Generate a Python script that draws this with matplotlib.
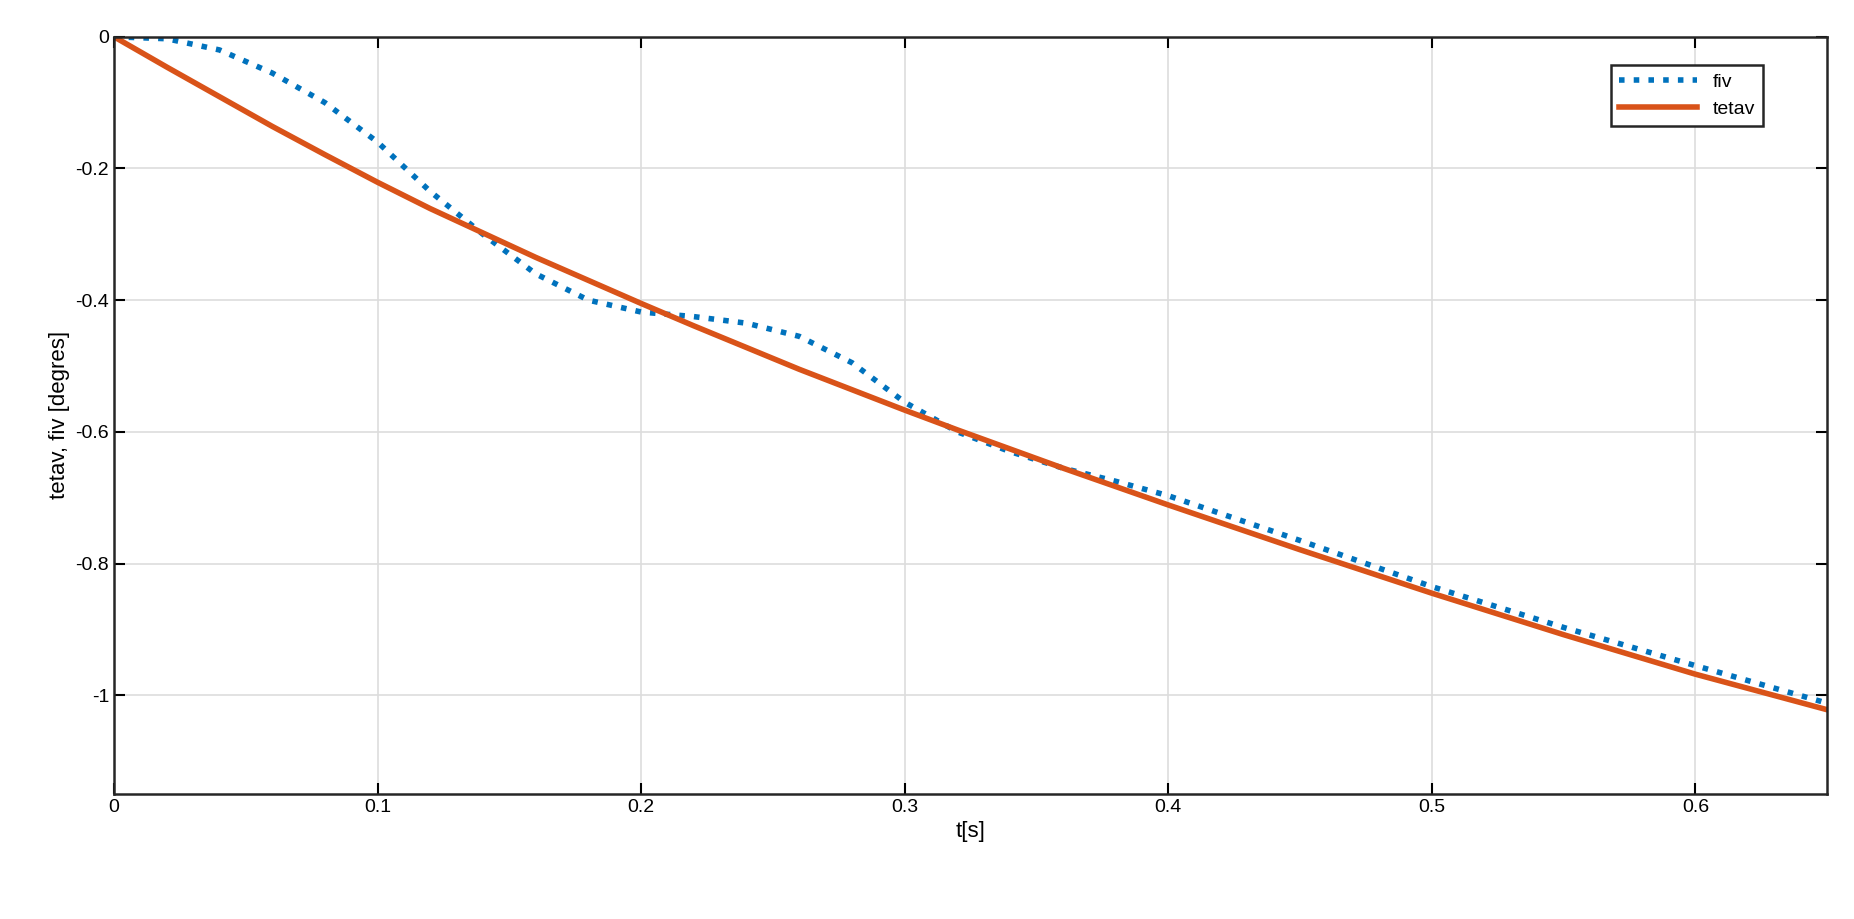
import numpy as np
import matplotlib.pyplot as plt

plt.rcParams['font.family'] = ['Liberation Sans', 'DejaVu Sans']

# time samples [s]
t = [0, 0.02, 0.04, 0.06, 0.08, 0.10, 0.12, 0.14, 0.16, 0.18, 0.20, 0.22, 0.24,
     0.26, 0.28, 0.30, 0.32, 0.34, 0.36, 0.38, 0.40, 0.45, 0.50, 0.55, 0.60, 0.65]
fiv = [0, -0.003, -0.02, -0.055, -0.10, -0.16, -0.235, -0.30, -0.36, -0.40, -0.418,
       -0.425, -0.435, -0.455, -0.495, -0.555, -0.60, -0.63, -0.655, -0.675, -0.697,
       -0.765, -0.835, -0.897, -0.955, -1.012]
tetav = [0, -0.046, -0.091, -0.136, -0.179, -0.221, -0.261, -0.298, -0.335, -0.370,
         -0.405, -0.439, -0.472, -0.505, -0.536, -0.567, -0.597, -0.626, -0.655, -0.683,
         -0.711, -0.779, -0.845, -0.908, -0.968, -1.022]

fig = plt.figure(figsize=(18.54, 9.19), dpi=100)
ax = fig.add_axes([0.0615, 0.136, 0.924, 0.824])
ax.plot(t, fiv, color='#0072BD', linestyle=':', linewidth=4, label='fiv')
ax.plot(t, tetav, color='#D95319', linewidth=4, label='tetav')

ax.set_xlim(0, 0.65)
ax.set_ylim(-1.15, 0)
ax.set_xticks(np.arange(0, 0.61, 0.1))
ax.set_xticklabels(['0', '0.1', '0.2', '0.3', '0.4', '0.5', '0.6'])
ax.set_yticks([-1, -0.8, -0.6, -0.4, -0.2, 0])
ax.set_yticklabels(['-1', '-0.8', '-0.6', '-0.4', '-0.2', '0'])
ax.grid(True, color='#dddddd', linewidth=1.2)
ax.tick_params(labelsize=14, direction='in', length=8, width=1.5, top=True, right=True)
for s in ax.spines.values():
    s.set_linewidth(1.8)
    s.set_color('#262626')
ax.set_xlabel('t[s]', fontsize=16)
ax.set_ylabel('tetav, fiv [degres]', fontsize=16)
leg = ax.legend(loc='upper right', fontsize=14, fancybox=False, framealpha=1,
                edgecolor='#262626', handlelength=4, bbox_to_anchor=(0.968, 0.975))
leg.get_frame().set_linewidth(1.8)

fig.savefig('out.png')
